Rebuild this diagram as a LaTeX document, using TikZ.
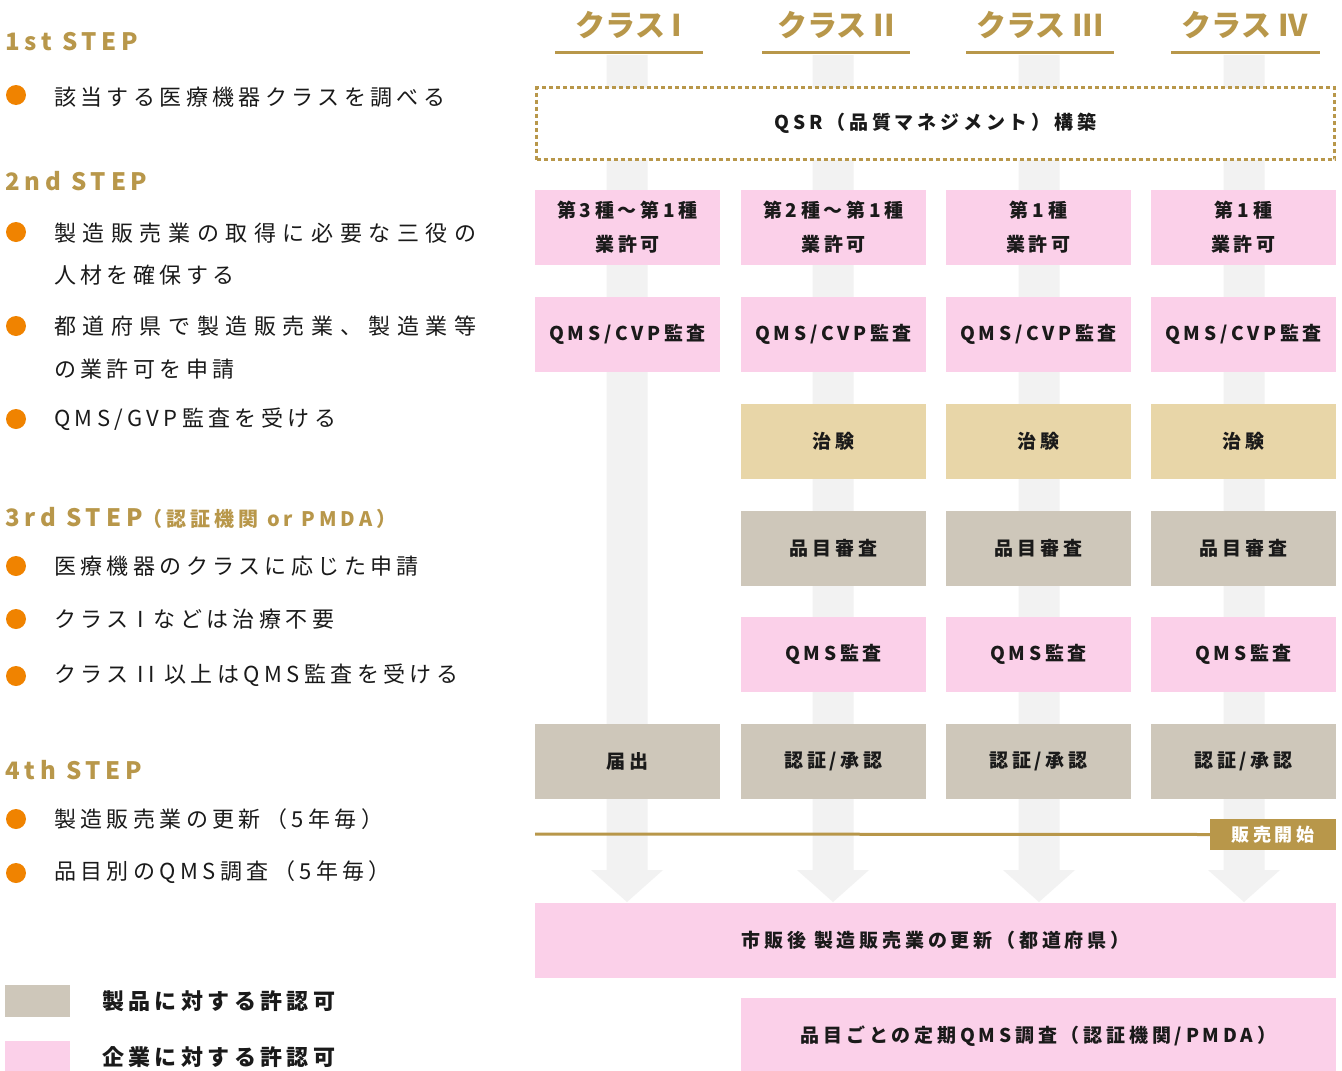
\documentclass[tikz,border=0pt]{standalone}
\usepackage{fontspec}
\newfontfamily\jpl{Noto Sans CJK JP}[LetterSpace=20]
\newfontfamily\jpw{Noto Sans CJK JP}[LetterSpace=30]
\newfontfamily\jpb{Noto Sans CJK JP}[LetterSpace=20]
\newfontfamily\jph{Noto Sans CJK JP}
\newcommand\fsz[2]{\fontsize{#1}{#2}\selectfont}
\definecolor{gold}{HTML}{B8974A}
\definecolor{pinkc}{HTML}{FBD0E9}
\definecolor{beigec}{HTML}{CEC7BA}
\definecolor{tanc}{HTML}{E8D6A8}
\definecolor{barc}{HTML}{F2F2F2}
\definecolor{orangec}{HTML}{F08300}
\definecolor{ink}{HTML}{1A1A1A}
\tikzset{
  box/.style={minimum width=185, minimum height=75, inner sep=0, align=center,
    font=\jpb\bfseries\fsz{19}{34}, text=ink},
  pinkbox/.style={box, fill=pinkc},
  tanbox/.style={box, fill=tanc},
  greybox/.style={box, fill=beigec},
  hdr/.style={inner sep=0, font=\jph\bfseries\fsz{30}{34}, text=gold},
  uline/.style={draw=gold, line width=3},
  colbar/.style={fill=barc},
  lt/.style={anchor=west, inner sep=0, font=\jpl\fsz{22}{26}, text=ink},
  ltw/.style={lt, font=\jpw\fsz{22}{26}},
  stephead/.style={anchor=west, inner sep=0, font=\jpb\bfseries\fsz{24}{28}, text=gold},
  bullet/.style={circle, fill=orangec, minimum size=20, inner sep=0},
  legend/.style={anchor=west, inner sep=0, font=\jpb\bfseries\fsz{22}{26}, text=ink},
}
\begin{document}
\begin{tikzpicture}[x=1pt,y=-1pt]
\useasboundingbox (0,0) rectangle (1342,1071);
\fill[white] (0,0) rectangle (1342,1071);

% column arrows (grey bars)
\foreach \cx in {627,833,1039,1244}{
  \fill[colbar] (\cx-20.5,55) -- (\cx+20.5,55) -- (\cx+20.5,870) -- (\cx+36,870)
    -- (\cx,902) -- (\cx-36,870) -- (\cx-20.5,870) -- cycle;
}

% headers
\node[hdr] (h1) at (629,25) {クラス I};
\node[hdr] (h2) at (836,25) {クラス II};
\node[hdr] (h3) at (1040,25) {クラス III};
\node[hdr] (h4) at (1245,25) {クラス IV};
\coordinate (u1a) at (555,52); \coordinate (u1b) at (703,52);
\coordinate (u2a) at (762,52); \coordinate (u2b) at (910,52);
\coordinate (u3a) at (966,52); \coordinate (u3b) at (1114,52);
\coordinate (u4a) at (1171,52); \coordinate (u4b) at (1320,52);
\draw[uline] (u1a) -- (u1b);
\draw[uline] (u2a) -- (u2b);
\draw[uline] (u3a) -- (u3b);
\draw[uline] (u4a) -- (u4b);

% QSR
\node[box, fill=white, draw=gold, line width=2.5, dash pattern=on 4 off 3,
  minimum width=798, minimum height=72] (qsr) at (935.5,123.5) {QSR（品質マネジメント）構築};

% row 1
\node[pinkbox] (r1c1) at (627.5,227.5) {第3種〜第1種\\業許可};
\node[pinkbox] (r1c2) at (833.5,227.5) {第2種〜第1種\\業許可};
\node[pinkbox] (r1c3) at (1038.5,227.5) {第1種\\業許可};
\node[pinkbox] (r1c4) at (1243.5,227.5) {第1種\\業許可};
% row 2
\node[pinkbox] (r2c1) at (627.5,334.5) {QMS/CVP監査};
\node[pinkbox] (r2c2) at (833.5,334.5) {QMS/CVP監査};
\node[pinkbox] (r2c3) at (1038.5,334.5) {QMS/CVP監査};
\node[pinkbox] (r2c4) at (1243.5,334.5) {QMS/CVP監査};
% row 3
\node[tanbox] (r3c2) at (833.5,441.5) {治験};
\node[tanbox] (r3c3) at (1038.5,441.5) {治験};
\node[tanbox] (r3c4) at (1243.5,441.5) {治験};
% row 4
\node[greybox] (r4c2) at (833.5,548.5) {品目審査};
\node[greybox] (r4c3) at (1038.5,548.5) {品目審査};
\node[greybox] (r4c4) at (1243.5,548.5) {品目審査};
% row 5
\node[pinkbox] (r5c2) at (833.5,654.5) {QMS監査};
\node[pinkbox] (r5c3) at (1038.5,654.5) {QMS監査};
\node[pinkbox] (r5c4) at (1243.5,654.5) {QMS監査};
% row 6
\node[greybox] (r6c1) at (627.5,761.5) {届出};
\node[greybox] (r6c2) at (833.5,761.5) {認証/承認};
\node[greybox] (r6c3) at (1038.5,761.5) {認証/承認};
\node[greybox] (r6c4) at (1243.5,761.5) {認証/承認};

% sales start
\node[fill=gold, text=white, minimum width=126, minimum height=31, inner sep=0,
  font=\jpb\bfseries\fsz{18}{22}] (sale) at (1273,834.5) {販売開始};
\coordinate (saleL) at (535,834);
\draw[draw=gold, line width=3] (saleL) -- (sale.west);

% bottom boxes
\node[pinkbox, minimum width=801] (post) at (935.5,940.5) {市販後 製造販売業の更新（都道府県）};
\node[pinkbox, minimum width=595, minimum height=76] (periodic) at (1038.5,1036)
  {品目ごとの定期QMS調査（認証機関/PMDA）};

% left side
\node[stephead] (s1) at (5,42) {1st STEP};
\node[bullet] (b1) at (16,95) {};
\node[lt] (t1) at (54,97) {該当する医療機器クラスを調べる};

\node[stephead] (s2) at (5,181) {2nd STEP};
\node[bullet] (b2) at (16,232) {};
\node[ltw] (t2a) at (54,233) {製造販売業の取得に必要な三役の};
\node[lt] (t2b) at (54,275) {人材を確保する};
\node[bullet] (b3) at (16,326) {};
\node[ltw] (t3a) at (54,326) {都道府県で製造販売業、製造業等};
\node[lt] (t3b) at (54,369) {の業許可を申請};
\node[bullet] (b4) at (16,419) {};
\node[lt] (t4) at (54,419) {QMS/GVP監査を受ける};

\node[stephead] (s3) at (5,518) {3rd STEP{\fsz{20}{24}（認証機関 or PMDA）}};
\node[bullet] (b5) at (16,566) {};
\node[lt] (t5) at (54,566) {医療機器のクラスに応じた申請};
\node[bullet] (b6) at (16,619) {};
\node[lt] (t6) at (54,619) {クラス I などは治療不要};
\node[bullet] (b7) at (16,676) {};
\node[lt] (t7) at (54,675) {クラス II 以上はQMS監査を受ける};

\node[stephead] (s4) at (5,770) {4th STEP};
\node[bullet] (b8) at (16,819) {};
\node[lt] (t8) at (54,819) {製造販売業の更新（5年毎）};
\node[bullet] (b9) at (16,873) {};
\node[lt] (t9) at (54,872) {品目別のQMS調査（5年毎）};

% legend
\node[fill=beigec, minimum width=65, minimum height=32, inner sep=0] (lg1) at (37.5,1001) {};
\node[legend] (lt1) at (102,1001) {製品に対する許認可};
\node[fill=pinkc, minimum width=65, minimum height=32, inner sep=0] (lg2) at (37.5,1057) {};
\node[legend] (lt2) at (102,1057) {企業に対する許認可};
\end{tikzpicture}
\end{document}
